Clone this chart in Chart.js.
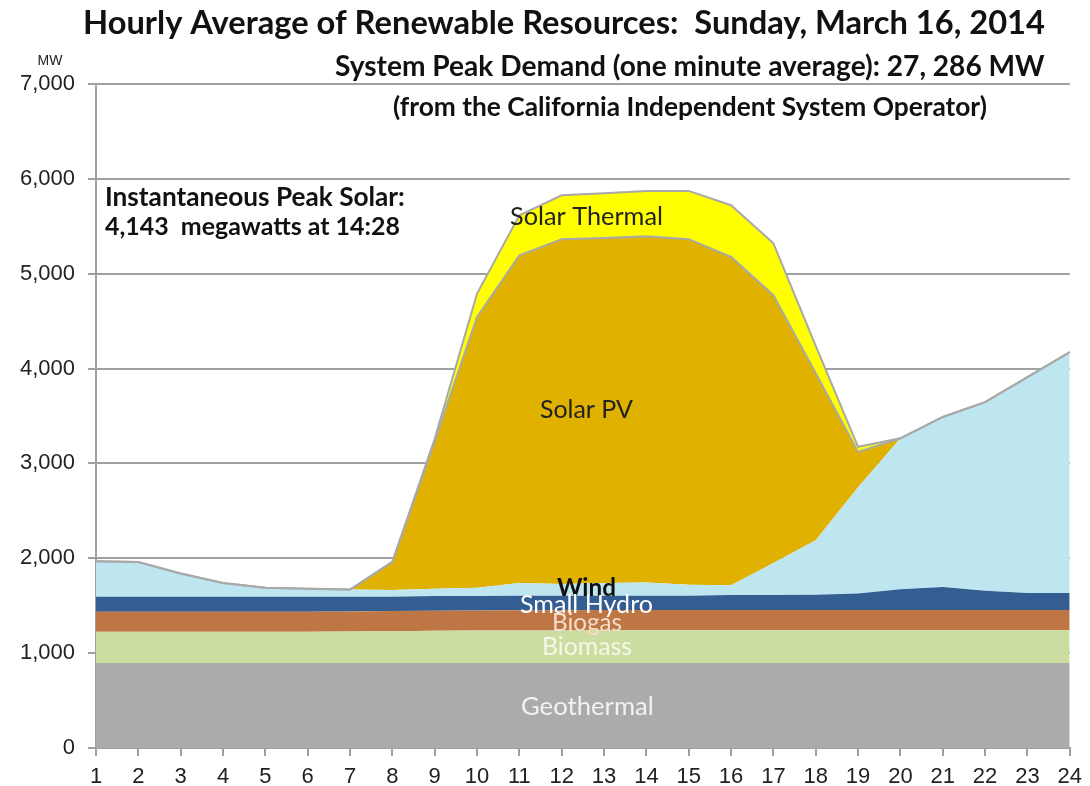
<!DOCTYPE html>
<html>
<head>
<title>Hourly Average of Renewable Resources</title>
<style>
  body { margin: 0; padding: 0; background: #ffffff; }
  #wrap { width: 1090px; height: 786px; position: relative; }
</style>
</head>
<body>
<div id="wrap"><canvas id="chart" width="1090" height="786"></canvas></div>
<script src="https://cdn.jsdelivr.net/npm/chart.js"></script>
<script>
// hours of the day
const hours = ['1','2','3','4','5','6','7','8','9','10','11','12','13','14','15','16','17','18','19','20','21','22','23','24'];

// MW per resource, stacked bottom to top
const geothermal = [895,895,895,895,895,895,895,895,895,895,895,895,895,895,895,895,895,895,895,895,895,895,895,895];
const biomass    = [330,330,330,330,330,331,333,337,341,343,345,345,346,346,346,346,347,347,347,347,347,347,347,347];
const biogas     = [211,211,211,211,211,211,211,211,212,212,213,213,213,213,213,213,213,213,213,213,213,213,213,213];
const smallHydro = [158,158,158,158,158,157,155,151,154,152,152,152,151,151,151,158,157,160,175,219,241,203,178,178];
const wind       = [376,366,246,146,96,86,76,71,78,88,135,125,135,140,115,105,338,575,1120,1591,1794,1988,2277,2540];
const solarPV    = [0,0,0,0,0,0,0,298,1555,2855,3455,3634,3637,3650,3644,3460,2823,1761,372,0,0,0,0,0];
const solarThermal = [0,0,0,0,0,0,0,0,25,245,420,463,471,478,509,545,548,289,53,0,0,0,0,0];

const yMin = 0, yMax = 7000, yStep = 1000;

// draws text scaled to a given width (Calibri-like look)
function fitText(ctx, text, x, y, w, weight, color, align) {
  ctx.font = weight + ' 20px Lato';
  const m = ctx.measureText(text).width;
  const size = 20 * w / m;
  ctx.font = weight + ' ' + size.toFixed(2) + 'px Lato';
  ctx.fillStyle = color;
  ctx.textAlign = align || 'left';
  ctx.textBaseline = 'middle';
  ctx.fillText(text, x, y);
}

const textPlugin = {
  id: 'texts',
  afterDraw(chart) {
    const ctx = chart.ctx;
    ctx.save();
    fitText(ctx, 'Hourly Average of Renewable Resources:  Sunday, March 16, 2014', 83, 23, 962, 'bold', '#111', 'left');
    fitText(ctx, 'System Peak Demand (one minute average): 27, 286 MW', 335, 67, 710, 'bold', '#111', 'left');
    fitText(ctx, '(from the California Independent System Operator)', 393, 108, 594, 'bold', '#111', 'left');
    ctx.font = '14px "Liberation Sans"';
    ctx.fillStyle = '#222';
    ctx.textAlign = 'center';
    ctx.fillText('MW', 50, 61);
    fitText(ctx, 'Instantaneous Peak Solar:', 105, 198, 300, 'bold', '#111', 'left');
    fitText(ctx, '4,143  megawatts at 14:28', 105, 227, 295, 'bold', '#111', 'left');

    fitText(ctx, 'Solar Thermal', 510, 217, 153, 'normal', '#222', 'left');
    fitText(ctx, 'Solar PV', 540, 410, 93, 'normal', '#222', 'left');
    fitText(ctx, 'Wind', 557, 588, 59, 'bold', '#111', 'left');
    fitText(ctx, 'Small Hydro', 520, 605, 133, 'normal', '#ffffff', 'left');
    fitText(ctx, 'Biogas', 552, 623, 70, 'normal', '#f5dccb', 'left');
    fitText(ctx, 'Biomass', 542, 647, 90, 'normal', '#f4f8e8', 'left');
    fitText(ctx, 'Geothermal', 521, 707, 133, 'normal', '#f2f2f2', 'left');
    ctx.restore();
  }
};

function layer(label, data, color, fill, border) {
  return {
    label: label,
    data: data,
    backgroundColor: color,
    borderColor: border ? '#a9a9a9' : color,
    borderWidth: border ? 2 : 0,
    fill: fill,
    pointRadius: 0,
    tension: 0
  };
}

const ctx = document.getElementById('chart').getContext('2d');
new Chart(ctx, {
  type: 'line',
  data: {
    labels: hours,
    datasets: [
      layer('Geothermal', geothermal, '#ababab', 'origin', false),
      layer('Biomass', biomass, '#cbdda1', '-1', false),
      layer('Biogas', biogas, '#bd7644', '-1', false),
      layer('Small Hydro', smallHydro, '#345d91', '-1', false),
      layer('Wind', wind, '#bee6f0', '-1', false),
      layer('Solar PV', solarPV, '#e1b100', '-1', true),
      layer('Solar Thermal', solarThermal, '#ffff00', '-1', true)
    ]
  },
  options: {
    responsive: false,
    devicePixelRatio: 1,
    animation: false,
    layout: { padding: { top: 84, right: 16, left: 0, bottom: 0 } },
    plugins: {
      legend: { display: false },
      tooltip: { enabled: false },
      filler: { drawTime: 'beforeDatasetsDraw' }
    },
    scales: {
      x: {
        offset: false,
        grid: { drawOnChartArea: false, color: '#a0a0a0', lineWidth: 2, tickLength: 8 },
        border: { color: '#a0a0a0', width: 2 },
        ticks: { font: { family: 'Liberation Sans', size: 22 }, color: '#222', padding: 8, maxRotation: 0, autoSkip: false },
        afterFit: s => { s.height = 38; }
      },
      y: {
        stacked: true,
        min: yMin,
        max: yMax,
        grid: { color: '#a0a0a0', lineWidth: 2, tickLength: 8 },
        border: { color: '#a0a0a0', width: 2 },
        ticks: {
          stepSize: yStep,
          font: { family: 'Liberation Sans', size: 22 },
          color: '#222',
          padding: 13,
          callback: v => v.toLocaleString('en-US')
        },
        afterFit: s => { s.width = 96; }
      }
    }
  },
  plugins: [textPlugin]
});
</script>
</body>
</html>
